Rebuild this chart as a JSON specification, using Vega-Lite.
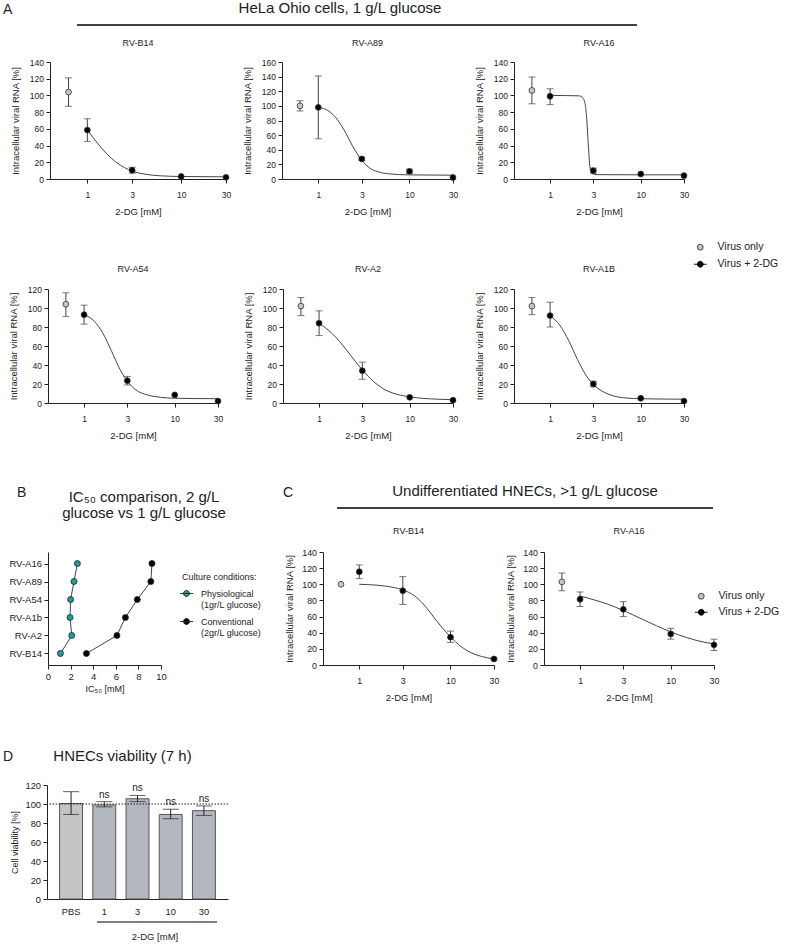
{
"$schema":"https://vega.github.io/schema/vega-lite/v6.json",
"padding":{"left":3,"top":1,"right":0,"bottom":0},
"spacing":0,
"resolve":{"scale":{"color":"independent"},"legend":{"color":"independent"}},
"config":{
 "font":"Liberation Sans",
 "view":{"stroke":null},
 "axis":{"grid":false,"domainColor":"#222","tickColor":"#222","labelColor":"#222","titleColor":"#222","labelFontSize":8.5,"titleFontSize":9.5,"titleFontWeight":"normal","tickSize":4,"domainWidth":1,"tickWidth":1},
 "axisX":{"labelPadding":7,"titlePadding":8,"labelFlush":false},
 "axisY":{"labelPadding":2.5,"titlePadding":9},
 "title":{"fontSize":9,"fontWeight":"normal","color":"#222","frame":"group","offset":10,"anchor":"middle"},
 "legend":{"labelColor":"#222","titleColor":"#222","titleFontWeight":"normal","padding":0}
},
"datasets":{
 "pts":[
  {"cells":"HeLa","virus":"RV-B14","g":"Virus only","dose":0.63,"val":104,"lo":87,"hi":121},
  {"cells":"HeLa","virus":"RV-B14","g":"Virus + 2-DG","dose":1,"val":58.5,"lo":45,"hi":72},
  {"cells":"HeLa","virus":"RV-B14","g":"Virus + 2-DG","dose":3,"val":10.5,"lo":7,"hi":14},
  {"cells":"HeLa","virus":"RV-B14","g":"Virus + 2-DG","dose":10,"val":3,"lo":null,"hi":null},
  {"cells":"HeLa","virus":"RV-B14","g":"Virus + 2-DG","dose":30,"val":2,"lo":null,"hi":null},
  {"cells":"HeLa","virus":"RV-A89","g":"Virus only","dose":0.63,"val":100,"lo":93,"hi":107},
  {"cells":"HeLa","virus":"RV-A89","g":"Virus + 2-DG","dose":1,"val":98,"lo":55,"hi":141},
  {"cells":"HeLa","virus":"RV-A89","g":"Virus + 2-DG","dose":3,"val":27.5,"lo":25.5,"hi":29.5},
  {"cells":"HeLa","virus":"RV-A89","g":"Virus + 2-DG","dose":10,"val":10.5,"lo":7.5,"hi":13.5},
  {"cells":"HeLa","virus":"RV-A89","g":"Virus + 2-DG","dose":30,"val":2,"lo":null,"hi":null},
  {"cells":"HeLa","virus":"RV-A16","g":"Virus only","dose":0.63,"val":106,"lo":90,"hi":122},
  {"cells":"HeLa","virus":"RV-A16","g":"Virus + 2-DG","dose":1,"val":99,"lo":89,"hi":108},
  {"cells":"HeLa","virus":"RV-A16","g":"Virus + 2-DG","dose":3,"val":10,"lo":7,"hi":13},
  {"cells":"HeLa","virus":"RV-A16","g":"Virus + 2-DG","dose":10,"val":6,"lo":null,"hi":null},
  {"cells":"HeLa","virus":"RV-A16","g":"Virus + 2-DG","dose":30,"val":4,"lo":null,"hi":null},
  {"cells":"HeLa","virus":"RV-A54","g":"Virus only","dose":0.63,"val":104,"lo":91,"hi":116},
  {"cells":"HeLa","virus":"RV-A54","g":"Virus + 2-DG","dose":1,"val":93,"lo":83,"hi":103},
  {"cells":"HeLa","virus":"RV-A54","g":"Virus + 2-DG","dose":3,"val":23.5,"lo":19,"hi":28},
  {"cells":"HeLa","virus":"RV-A54","g":"Virus + 2-DG","dose":10,"val":8.5,"lo":null,"hi":null},
  {"cells":"HeLa","virus":"RV-A54","g":"Virus + 2-DG","dose":30,"val":2,"lo":null,"hi":null},
  {"cells":"HeLa","virus":"RV-A2","g":"Virus only","dose":0.63,"val":102,"lo":92,"hi":111},
  {"cells":"HeLa","virus":"RV-A2","g":"Virus + 2-DG","dose":1,"val":84,"lo":71,"hi":97},
  {"cells":"HeLa","virus":"RV-A2","g":"Virus + 2-DG","dose":3,"val":34,"lo":25,"hi":43},
  {"cells":"HeLa","virus":"RV-A2","g":"Virus + 2-DG","dose":10,"val":6,"lo":null,"hi":null},
  {"cells":"HeLa","virus":"RV-A2","g":"Virus + 2-DG","dose":30,"val":3,"lo":null,"hi":null},
  {"cells":"HeLa","virus":"RV-A1B","g":"Virus only","dose":0.63,"val":102,"lo":93,"hi":111},
  {"cells":"HeLa","virus":"RV-A1B","g":"Virus + 2-DG","dose":1,"val":92,"lo":80,"hi":106},
  {"cells":"HeLa","virus":"RV-A1B","g":"Virus + 2-DG","dose":3,"val":20,"lo":17,"hi":23},
  {"cells":"HeLa","virus":"RV-A1B","g":"Virus + 2-DG","dose":10,"val":5,"lo":null,"hi":null},
  {"cells":"HeLa","virus":"RV-A1B","g":"Virus + 2-DG","dose":30,"val":2,"lo":null,"hi":null},
  {"cells":"HNEC","virus":"RV-B14","g":"Virus only","dose":0.63,"val":100,"lo":null,"hi":null},
  {"cells":"HNEC","virus":"RV-B14","g":"Virus + 2-DG","dose":1,"val":115.5,"lo":107,"hi":124},
  {"cells":"HNEC","virus":"RV-B14","g":"Virus + 2-DG","dose":3,"val":92,"lo":75,"hi":109.5},
  {"cells":"HNEC","virus":"RV-B14","g":"Virus + 2-DG","dose":10,"val":34.5,"lo":28,"hi":42},
  {"cells":"HNEC","virus":"RV-B14","g":"Virus + 2-DG","dose":30,"val":7.5,"lo":6,"hi":9},
  {"cells":"HNEC","virus":"RV-A16","g":"Virus only","dose":0.63,"val":103,"lo":92,"hi":114},
  {"cells":"HNEC","virus":"RV-A16","g":"Virus + 2-DG","dose":1,"val":81.5,"lo":72.5,"hi":90.5},
  {"cells":"HNEC","virus":"RV-A16","g":"Virus + 2-DG","dose":3,"val":69,"lo":60,"hi":78.5},
  {"cells":"HNEC","virus":"RV-A16","g":"Virus + 2-DG","dose":10,"val":38.5,"lo":32,"hi":45.5},
  {"cells":"HNEC","virus":"RV-A16","g":"Virus + 2-DG","dose":30,"val":25,"lo":18,"hi":32}
 ],
 "fit":[
  {"cells":"HeLa","virus":"RV-B14","dose":1,"val":58.5},{"cells":"HeLa","virus":"RV-B14","dose":1.3,"val":42},{"cells":"HeLa","virus":"RV-B14","dose":1.6,"val":30.5},{"cells":"HeLa","virus":"RV-B14","dose":2,"val":20.5},{"cells":"HeLa","virus":"RV-B14","dose":2.5,"val":13.5},{"cells":"HeLa","virus":"RV-B14","dose":3,"val":9.5},{"cells":"HeLa","virus":"RV-B14","dose":4,"val":6},{"cells":"HeLa","virus":"RV-B14","dose":6,"val":3.8},{"cells":"HeLa","virus":"RV-B14","dose":10,"val":3},{"cells":"HeLa","virus":"RV-B14","dose":30,"val":2.6},
  {"cells":"HeLa","virus":"RV-A89","dose":1,"val":98},{"cells":"HeLa","virus":"RV-A89","dose":1.3,"val":93},{"cells":"HeLa","virus":"RV-A89","dose":1.6,"val":82},{"cells":"HeLa","virus":"RV-A89","dose":2,"val":63},{"cells":"HeLa","virus":"RV-A89","dose":2.4,"val":44},{"cells":"HeLa","virus":"RV-A89","dose":3,"val":26},{"cells":"HeLa","virus":"RV-A89","dose":3.6,"val":15.5},{"cells":"HeLa","virus":"RV-A89","dose":4.5,"val":10},{"cells":"HeLa","virus":"RV-A89","dose":6,"val":7},{"cells":"HeLa","virus":"RV-A89","dose":10,"val":5.6},{"cells":"HeLa","virus":"RV-A89","dose":30,"val":5.2},
  {"cells":"HeLa","virus":"RV-A16","dose":1,"val":100},{"cells":"HeLa","virus":"RV-A16","dose":2.1,"val":99.5},{"cells":"HeLa","virus":"RV-A16","dose":2.3,"val":97},{"cells":"HeLa","virus":"RV-A16","dose":2.45,"val":88},{"cells":"HeLa","virus":"RV-A16","dose":2.55,"val":68},{"cells":"HeLa","virus":"RV-A16","dose":2.65,"val":38},{"cells":"HeLa","virus":"RV-A16","dose":2.75,"val":15},{"cells":"HeLa","virus":"RV-A16","dose":2.9,"val":6.5},{"cells":"HeLa","virus":"RV-A16","dose":3.3,"val":5.2},{"cells":"HeLa","virus":"RV-A16","dose":10,"val":5},{"cells":"HeLa","virus":"RV-A16","dose":30,"val":5},
  {"cells":"HeLa","virus":"RV-A54","dose":1,"val":93},{"cells":"HeLa","virus":"RV-A54","dose":1.3,"val":86},{"cells":"HeLa","virus":"RV-A54","dose":1.6,"val":74},{"cells":"HeLa","virus":"RV-A54","dose":2,"val":55},{"cells":"HeLa","virus":"RV-A54","dose":2.5,"val":35},{"cells":"HeLa","virus":"RV-A54","dose":3,"val":23},{"cells":"HeLa","virus":"RV-A54","dose":3.7,"val":14},{"cells":"HeLa","virus":"RV-A54","dose":5,"val":8.5},{"cells":"HeLa","virus":"RV-A54","dose":7,"val":6},{"cells":"HeLa","virus":"RV-A54","dose":10,"val":5},{"cells":"HeLa","virus":"RV-A54","dose":30,"val":4.5},
  {"cells":"HeLa","virus":"RV-A2","dose":1,"val":84},{"cells":"HeLa","virus":"RV-A2","dose":1.4,"val":73},{"cells":"HeLa","virus":"RV-A2","dose":2,"val":56},{"cells":"HeLa","virus":"RV-A2","dose":2.5,"val":44},{"cells":"HeLa","virus":"RV-A2","dose":3,"val":35},{"cells":"HeLa","virus":"RV-A2","dose":4,"val":22.5},{"cells":"HeLa","virus":"RV-A2","dose":5,"val":15.5},{"cells":"HeLa","virus":"RV-A2","dose":7,"val":9.5},{"cells":"HeLa","virus":"RV-A2","dose":10,"val":6.5},{"cells":"HeLa","virus":"RV-A2","dose":20,"val":4},{"cells":"HeLa","virus":"RV-A2","dose":30,"val":3.5},
  {"cells":"HeLa","virus":"RV-A1B","dose":1,"val":92},{"cells":"HeLa","virus":"RV-A1B","dose":1.3,"val":81},{"cells":"HeLa","virus":"RV-A1B","dose":1.6,"val":66},{"cells":"HeLa","virus":"RV-A1B","dose":2,"val":46},{"cells":"HeLa","virus":"RV-A1B","dose":2.5,"val":29},{"cells":"HeLa","virus":"RV-A1B","dose":3,"val":19.5},{"cells":"HeLa","virus":"RV-A1B","dose":4,"val":11},{"cells":"HeLa","virus":"RV-A1B","dose":5,"val":7.5},{"cells":"HeLa","virus":"RV-A1B","dose":7,"val":5.2},{"cells":"HeLa","virus":"RV-A1B","dose":10,"val":4.5},{"cells":"HeLa","virus":"RV-A1B","dose":30,"val":4},
  {"cells":"HNEC","virus":"RV-B14","dose":1,"val":100},{"cells":"HNEC","virus":"RV-B14","dose":2,"val":97.5},{"cells":"HNEC","virus":"RV-B14","dose":3,"val":93},{"cells":"HNEC","virus":"RV-B14","dose":4,"val":86},{"cells":"HNEC","virus":"RV-B14","dose":5,"val":76},{"cells":"HNEC","virus":"RV-B14","dose":6,"val":65},{"cells":"HNEC","virus":"RV-B14","dose":7,"val":55},{"cells":"HNEC","virus":"RV-B14","dose":8,"val":47},{"cells":"HNEC","virus":"RV-B14","dose":10,"val":35},{"cells":"HNEC","virus":"RV-B14","dose":13,"val":23},{"cells":"HNEC","virus":"RV-B14","dose":17,"val":15},{"cells":"HNEC","virus":"RV-B14","dose":22,"val":10.5},{"cells":"HNEC","virus":"RV-B14","dose":30,"val":7.5},
  {"cells":"HNEC","virus":"RV-A16","dose":1,"val":85.5},{"cells":"HNEC","virus":"RV-A16","dose":1.5,"val":80},{"cells":"HNEC","virus":"RV-A16","dose":2,"val":75.5},{"cells":"HNEC","virus":"RV-A16","dose":3,"val":67.5},{"cells":"HNEC","virus":"RV-A16","dose":5,"val":56},{"cells":"HNEC","virus":"RV-A16","dose":7,"val":48.5},{"cells":"HNEC","virus":"RV-A16","dose":10,"val":41},{"cells":"HNEC","virus":"RV-A16","dose":15,"val":34},{"cells":"HNEC","virus":"RV-A16","dose":20,"val":30},{"cells":"HNEC","virus":"RV-A16","dose":30,"val":26}
 ],
 "ic50":[
  {"virus":"RV-A16","cond":"Physiological","ic50":2.6,"rank":1},
  {"virus":"RV-A89","cond":"Physiological","ic50":2.3,"rank":2},
  {"virus":"RV-A54","cond":"Physiological","ic50":2.0,"rank":3},
  {"virus":"RV-A1b","cond":"Physiological","ic50":1.95,"rank":4},
  {"virus":"RV-A2","cond":"Physiological","ic50":2.1,"rank":5},
  {"virus":"RV-B14","cond":"Physiological","ic50":1.1,"rank":6},
  {"virus":"RV-A16","cond":"Conventional","ic50":9.2,"rank":1},
  {"virus":"RV-A89","cond":"Conventional","ic50":9.1,"rank":2},
  {"virus":"RV-A54","cond":"Conventional","ic50":7.9,"rank":3},
  {"virus":"RV-A1b","cond":"Conventional","ic50":6.85,"rank":4},
  {"virus":"RV-A2","cond":"Conventional","ic50":6.1,"rank":5},
  {"virus":"RV-B14","cond":"Conventional","ic50":3.4,"rank":6}
 ],
 "via":[
  {"c":"PBS","kind":"PBS","m":100.5,"lo":89,"hi":113},
  {"c":"1","kind":"2-DG","m":99,"lo":97,"hi":102.5},
  {"c":"3","kind":"2-DG","m":105.5,"lo":102.5,"hi":109},
  {"c":"10","kind":"2-DG","m":89,"lo":84.5,"hi":94.5},
  {"c":"30","kind":"2-DG","m":93,"lo":88,"hi":98}
 ]
},
"vconcat":[
 {"hconcat":[
   {"width":74,"height":1,"mark":"point","data":{"values":[]},"title":{"text":"A","anchor":"start","fontSize":14,"offset":8}},
   {"width":560,"height":1,"data":{"values":[{}]},"mark":{"type":"rule","color":"#000","strokeWidth":1.3},"encoding":{"x":{"datum":0,"type":"quantitative","scale":{"domain":[0,1]},"axis":null},"x2":{"datum":1},"y":{"value":0}},"title":{"text":"HeLa Ohio cells, 1 g/L glucose","fontSize":15,"dx":-17,"offset":8}}
  ],"bounds":"flush","spacing":0},
 {"width":1,"height":13,"mark":"point","data":{"values":[]}},
 {"hconcat":[
   {"width":47,"height":117,"mark":"point","data":{"values":[]}},
   {"width":176,"height":117,"title":"RV-B14",
    "encoding":{"x":{"field":"dose","type":"quantitative","title":"2-DG [mM]","scale":{"type":"log","domain":[0.4,30],"nice":false},"axis":{"values":[1,3,10,30]}},
     "y":{"field":"val","type":"quantitative","title":"Intracellular viral RNA [%]","scale":{"domain":[0,140],"nice":false},"axis":{"values":[0,20,40,60,80,100,120,140]}}},
    "layer":[
     {"data":{"name":"fit"},"transform":[{"filter":"datum.cells==='HeLa' && datum.virus==='RV-B14'"}],"mark":{"type":"line","interpolate":"monotone","color":"#444","strokeWidth":1}},
     {"data":{"name":"pts"},"transform":[{"filter":"datum.cells==='HeLa' && datum.virus==='RV-B14'"}],"mark":{"type":"rule","color":"#444"},"encoding":{"y":{"field":"lo","type":"quantitative","title":"Intracellular viral RNA [%]","scale":{"domain":[0,140],"nice":false}},"y2":{"field":"hi"}}},
     {"data":{"name":"pts"},"transform":[{"filter":"datum.cells==='HeLa' && datum.virus==='RV-B14'"}],"mark":{"type":"tick","orient":"horizontal","size":7,"thickness":1,"color":"#444"},"encoding":{"y":{"field":"lo","type":"quantitative","title":"Intracellular viral RNA [%]","scale":{"domain":[0,140],"nice":false}}}},
     {"data":{"name":"pts"},"transform":[{"filter":"datum.cells==='HeLa' && datum.virus==='RV-B14'"}],"mark":{"type":"tick","orient":"horizontal","size":7,"thickness":1,"color":"#444"},"encoding":{"y":{"field":"hi","type":"quantitative","title":"Intracellular viral RNA [%]","scale":{"domain":[0,140],"nice":false}}}},
     {"data":{"name":"pts"},"transform":[{"filter":"datum.cells==='HeLa' && datum.virus==='RV-B14'"}],"mark":{"type":"point","filled":true,"size":34,"opacity":1,"stroke":"#333","strokeWidth":0.8},"encoding":{"color":{"field":"g","type":"nominal","scale":{"domain":["Virus only","Virus + 2-DG"],"range":["#c6c6c6","#000000"]},"legend":null}}}
    ]},
   {"width":56,"height":117,"mark":"point","data":{"values":[]}},
   {"width":171,"height":117,"title":"RV-A89",
    "encoding":{"x":{"field":"dose","type":"quantitative","title":"2-DG [mM]","scale":{"type":"log","domain":[0.4,30],"nice":false},"axis":{"values":[1,3,10,30]}},
     "y":{"field":"val","type":"quantitative","title":"Intracellular viral RNA [%]","scale":{"domain":[0,160],"nice":false},"axis":{"values":[0,20,40,60,80,100,120,140,160]}}},
    "layer":[
     {"data":{"name":"fit"},"transform":[{"filter":"datum.cells==='HeLa' && datum.virus==='RV-A89'"}],"mark":{"type":"line","interpolate":"monotone","color":"#444","strokeWidth":1}},
     {"data":{"name":"pts"},"transform":[{"filter":"datum.cells==='HeLa' && datum.virus==='RV-A89'"}],"mark":{"type":"rule","color":"#444"},"encoding":{"y":{"field":"lo","type":"quantitative","title":"Intracellular viral RNA [%]","scale":{"domain":[0,160],"nice":false}},"y2":{"field":"hi"}}},
     {"data":{"name":"pts"},"transform":[{"filter":"datum.cells==='HeLa' && datum.virus==='RV-A89'"}],"mark":{"type":"tick","orient":"horizontal","size":7,"thickness":1,"color":"#444"},"encoding":{"y":{"field":"lo","type":"quantitative","title":"Intracellular viral RNA [%]","scale":{"domain":[0,160],"nice":false}}}},
     {"data":{"name":"pts"},"transform":[{"filter":"datum.cells==='HeLa' && datum.virus==='RV-A89'"}],"mark":{"type":"tick","orient":"horizontal","size":7,"thickness":1,"color":"#444"},"encoding":{"y":{"field":"hi","type":"quantitative","title":"Intracellular viral RNA [%]","scale":{"domain":[0,160],"nice":false}}}},
     {"data":{"name":"pts"},"transform":[{"filter":"datum.cells==='HeLa' && datum.virus==='RV-A89'"}],"mark":{"type":"point","filled":true,"size":34,"opacity":1,"stroke":"#333","strokeWidth":0.8},"encoding":{"color":{"field":"g","type":"nominal","scale":{"domain":["Virus only","Virus + 2-DG"],"range":["#c6c6c6","#000000"]},"legend":null}}}
    ]},
   {"width":61,"height":117,"mark":"point","data":{"values":[]}},
   {"width":170,"height":117,"title":"RV-A16",
    "encoding":{"x":{"field":"dose","type":"quantitative","title":"2-DG [mM]","scale":{"type":"log","domain":[0.4,30],"nice":false},"axis":{"values":[1,3,10,30]}},
     "y":{"field":"val","type":"quantitative","title":"Intracellular viral RNA [%]","scale":{"domain":[0,140],"nice":false},"axis":{"values":[0,20,40,60,80,100,120,140]}}},
    "layer":[
     {"data":{"name":"fit"},"transform":[{"filter":"datum.cells==='HeLa' && datum.virus==='RV-A16'"}],"mark":{"type":"line","interpolate":"monotone","color":"#444","strokeWidth":1}},
     {"data":{"name":"pts"},"transform":[{"filter":"datum.cells==='HeLa' && datum.virus==='RV-A16'"}],"mark":{"type":"rule","color":"#444"},"encoding":{"y":{"field":"lo","type":"quantitative","title":"Intracellular viral RNA [%]","scale":{"domain":[0,140],"nice":false}},"y2":{"field":"hi"}}},
     {"data":{"name":"pts"},"transform":[{"filter":"datum.cells==='HeLa' && datum.virus==='RV-A16'"}],"mark":{"type":"tick","orient":"horizontal","size":7,"thickness":1,"color":"#444"},"encoding":{"y":{"field":"lo","type":"quantitative","title":"Intracellular viral RNA [%]","scale":{"domain":[0,140],"nice":false}}}},
     {"data":{"name":"pts"},"transform":[{"filter":"datum.cells==='HeLa' && datum.virus==='RV-A16'"}],"mark":{"type":"tick","orient":"horizontal","size":7,"thickness":1,"color":"#444"},"encoding":{"y":{"field":"hi","type":"quantitative","title":"Intracellular viral RNA [%]","scale":{"domain":[0,140],"nice":false}}}},
     {"data":{"name":"pts"},"transform":[{"filter":"datum.cells==='HeLa' && datum.virus==='RV-A16'"}],"mark":{"type":"point","filled":true,"size":34,"opacity":1,"stroke":"#333","strokeWidth":0.8},"encoding":{"color":{"field":"g","type":"nominal","scale":{"domain":["Virus only","Virus + 2-DG"],"range":["#c6c6c6","#000000"]},"legend":null}}}
    ]}
  ],"bounds":"flush","spacing":0,"resolve":{"scale":{"color":"independent"},"legend":{"color":"independent"}}},
 {"width":1,"height":26,"mark":"point","data":{"values":[]}},
 {"hconcat":[
   {"width":45,"height":114,"mark":"point","data":{"values":[]}},
   {"width":170,"height":114,"title":{"text":"RV-A54","offset":11},
    "encoding":{"x":{"field":"dose","type":"quantitative","title":"2-DG [mM]","scale":{"type":"log","domain":[0.4,30],"nice":false},"axis":{"values":[1,3,10,30]}},
     "y":{"field":"val","type":"quantitative","title":"Intracellular viral RNA [%]","scale":{"domain":[0,120],"nice":false},"axis":{"values":[0,20,40,60,80,100,120]}}},
    "layer":[
     {"data":{"name":"fit"},"transform":[{"filter":"datum.cells==='HeLa' && datum.virus==='RV-A54'"}],"mark":{"type":"line","interpolate":"monotone","color":"#444","strokeWidth":1}},
     {"data":{"name":"pts"},"transform":[{"filter":"datum.cells==='HeLa' && datum.virus==='RV-A54'"}],"mark":{"type":"rule","color":"#444"},"encoding":{"y":{"field":"lo","type":"quantitative","title":"Intracellular viral RNA [%]","scale":{"domain":[0,120],"nice":false}},"y2":{"field":"hi"}}},
     {"data":{"name":"pts"},"transform":[{"filter":"datum.cells==='HeLa' && datum.virus==='RV-A54'"}],"mark":{"type":"tick","orient":"horizontal","size":7,"thickness":1,"color":"#444"},"encoding":{"y":{"field":"lo","type":"quantitative","title":"Intracellular viral RNA [%]","scale":{"domain":[0,120],"nice":false}}}},
     {"data":{"name":"pts"},"transform":[{"filter":"datum.cells==='HeLa' && datum.virus==='RV-A54'"}],"mark":{"type":"tick","orient":"horizontal","size":7,"thickness":1,"color":"#444"},"encoding":{"y":{"field":"hi","type":"quantitative","title":"Intracellular viral RNA [%]","scale":{"domain":[0,120],"nice":false}}}},
     {"data":{"name":"pts"},"transform":[{"filter":"datum.cells==='HeLa' && datum.virus==='RV-A54'"}],"mark":{"type":"point","filled":true,"size":34,"opacity":1,"stroke":"#333","strokeWidth":0.8},"encoding":{"color":{"field":"g","type":"nominal","scale":{"domain":["Virus only","Virus + 2-DG"],"range":["#c6c6c6","#000000"]},"legend":null}}}
    ]},
   {"width":65,"height":114,"mark":"point","data":{"values":[]}},
   {"width":170,"height":114,"title":{"text":"RV-A2","offset":11},
    "encoding":{"x":{"field":"dose","type":"quantitative","title":"2-DG [mM]","scale":{"type":"log","domain":[0.4,30],"nice":false},"axis":{"values":[1,3,10,30]}},
     "y":{"field":"val","type":"quantitative","title":"Intracellular viral RNA [%]","scale":{"domain":[0,120],"nice":false},"axis":{"values":[0,20,40,60,80,100,120]}}},
    "layer":[
     {"data":{"name":"fit"},"transform":[{"filter":"datum.cells==='HeLa' && datum.virus==='RV-A2'"}],"mark":{"type":"line","interpolate":"monotone","color":"#444","strokeWidth":1}},
     {"data":{"name":"pts"},"transform":[{"filter":"datum.cells==='HeLa' && datum.virus==='RV-A2'"}],"mark":{"type":"rule","color":"#444"},"encoding":{"y":{"field":"lo","type":"quantitative","title":"Intracellular viral RNA [%]","scale":{"domain":[0,120],"nice":false}},"y2":{"field":"hi"}}},
     {"data":{"name":"pts"},"transform":[{"filter":"datum.cells==='HeLa' && datum.virus==='RV-A2'"}],"mark":{"type":"tick","orient":"horizontal","size":7,"thickness":1,"color":"#444"},"encoding":{"y":{"field":"lo","type":"quantitative","title":"Intracellular viral RNA [%]","scale":{"domain":[0,120],"nice":false}}}},
     {"data":{"name":"pts"},"transform":[{"filter":"datum.cells==='HeLa' && datum.virus==='RV-A2'"}],"mark":{"type":"tick","orient":"horizontal","size":7,"thickness":1,"color":"#444"},"encoding":{"y":{"field":"hi","type":"quantitative","title":"Intracellular viral RNA [%]","scale":{"domain":[0,120],"nice":false}}}},
     {"data":{"name":"pts"},"transform":[{"filter":"datum.cells==='HeLa' && datum.virus==='RV-A2'"}],"mark":{"type":"point","filled":true,"size":34,"opacity":1,"stroke":"#333","strokeWidth":0.8},"encoding":{"color":{"field":"g","type":"nominal","scale":{"domain":["Virus only","Virus + 2-DG"],"range":["#c6c6c6","#000000"]},"legend":null}}}
    ]},
   {"width":61,"height":114,"mark":"point","data":{"values":[]}},
   {"width":170,"height":114,"title":{"text":"RV-A1B","offset":11},
    "encoding":{"x":{"field":"dose","type":"quantitative","title":"2-DG [mM]","scale":{"type":"log","domain":[0.4,30],"nice":false},"axis":{"values":[1,3,10,30]}},
     "y":{"field":"val","type":"quantitative","title":"Intracellular viral RNA [%]","scale":{"domain":[0,120],"nice":false},"axis":{"values":[0,20,40,60,80,100,120]}}},
    "layer":[
     {"data":{"name":"fit"},"transform":[{"filter":"datum.cells==='HeLa' && datum.virus==='RV-A1B'"}],"mark":{"type":"line","interpolate":"monotone","color":"#444","strokeWidth":1}},
     {"data":{"name":"pts"},"transform":[{"filter":"datum.cells==='HeLa' && datum.virus==='RV-A1B'"}],"mark":{"type":"rule","color":"#444"},"encoding":{"y":{"field":"lo","type":"quantitative","title":"Intracellular viral RNA [%]","scale":{"domain":[0,120],"nice":false}},"y2":{"field":"hi"}}},
     {"data":{"name":"pts"},"transform":[{"filter":"datum.cells==='HeLa' && datum.virus==='RV-A1B'"}],"mark":{"type":"tick","orient":"horizontal","size":7,"thickness":1,"color":"#444"},"encoding":{"y":{"field":"lo","type":"quantitative","title":"Intracellular viral RNA [%]","scale":{"domain":[0,120],"nice":false}}}},
     {"data":{"name":"pts"},"transform":[{"filter":"datum.cells==='HeLa' && datum.virus==='RV-A1B'"}],"mark":{"type":"tick","orient":"horizontal","size":7,"thickness":1,"color":"#444"},"encoding":{"y":{"field":"hi","type":"quantitative","title":"Intracellular viral RNA [%]","scale":{"domain":[0,120],"nice":false}}}},
     {"data":{"name":"pts"},"transform":[{"filter":"datum.cells==='HeLa' && datum.virus==='RV-A1B'"}],"mark":{"type":"point","filled":true,"size":34,"opacity":1,"stroke":"#333","strokeWidth":0.8},"encoding":{"color":{"field":"g","type":"nominal","scale":{"domain":["Virus only","Virus + 2-DG"],"range":["#c6c6c6","#000000"]},"legend":null}}}
    ]},
   {"width":1,"height":1,"data":{"values":[]},"mark":{"type":"point","filled":true,"opacity":1,"stroke":"#333","strokeWidth":0.9},
    "encoding":{"color":{"field":"g","type":"nominal","scale":{"domain":["Virus only"],"range":["#c6c6c6"]},
      "legend":{"orient":"none","legendX":11,"legendY":-47,"title":null,"labelFontSize":10.5,"symbolSize":34,"labelOffset":12,"symbolType":"circle","symbolStrokeColor":"#333","symbolStrokeWidth":0.9,"symbolOpacity":1}}}},
   {"width":1,"height":1,"data":{"values":[]},"mark":{"type":"point","filled":true,"opacity":1,"stroke":"#000","strokeWidth":0.9},
    "encoding":{"color":{"field":"g","type":"nominal","scale":{"domain":["Virus + 2-DG"],"range":["#000000"]},
      "legend":{"orient":"none","legendX":10,"legendY":-30,"title":null,"labelFontSize":10.5,"symbolSize":34,"labelOffset":12,"symbolType":"M-2.2,0H2.2M1,0A1,1 0 1,1 -1,0A1,1 0 1,1 1,0Z","symbolStrokeColor":"#000","symbolStrokeWidth":0.9,"symbolOpacity":1}}}}
  ],"bounds":"flush","spacing":0,"resolve":{"scale":{"color":"independent"},"legend":{"color":"independent"}}},
 {"width":1,"height":44,"mark":"point","data":{"values":[]}},
 {"hconcat":[
   {"width":14,"height":1,"mark":"point","data":{"values":[]}},
   {"width":40,"height":1,"mark":"point","data":{"values":[]},"title":{"text":"B","anchor":"start","fontSize":14,"offset":8}},
   {"width":226,"height":1,"mark":"point","data":{"values":[]},"title":{"text":["IC₅₀ comparison, 2 g/L","glucose vs 1 g/L glucose"],"fontSize":15,"lineHeight":16,"offset":-13,"dx":-26}},
   {"width":54,"height":1,"mark":"point","data":{"values":[]},"title":{"text":"C","anchor":"start","fontSize":14,"offset":8}},
   {"width":376,"height":1,"data":{"values":[{}]},"mark":{"type":"rule","color":"#000","strokeWidth":1.3},"encoding":{"x":{"datum":0,"type":"quantitative","scale":{"domain":[0,1]},"axis":null},"x2":{"datum":1},"y":{"value":0}},"title":{"text":"Undifferentiated HNECs, >1 g/L glucose","fontSize":15,"offset":8}}
  ],"bounds":"flush","spacing":0},
 {"width":1,"height":6,"mark":"point","data":{"values":[]}},
 {"hconcat":[
   {"width":45,"height":113,"mark":"point","data":{"values":[]}},
   {"width":113,"height":113,"data":{"name":"ic50"},
    "encoding":{
     "y":{"field":"virus","type":"nominal","title":null,"scale":{"type":"point","domain":["RV-A16","RV-A89","RV-A54","RV-A1b","RV-A2","RV-B14"],"padding":0.64},"axis":{"labelFontSize":9.5}},
     "x":{"field":"ic50","type":"quantitative","title":"IC₅₀ [mM]","scale":{"domain":[0,10],"nice":false},"axis":{"values":[0,2,4,6,8,10],"labelFontSize":9.5,"labelPadding":2,"titlePadding":4,"titleFontSize":9}}},
    "layer":[
     {"mark":{"type":"line","color":"#444","strokeWidth":1},"encoding":{"detail":{"field":"cond"},"order":{"field":"rank","type":"quantitative"}}},
     {"mark":{"type":"point","filled":true,"size":36,"opacity":1,"stroke":"#222","strokeWidth":0.8},"encoding":{"color":{"field":"cond","type":"nominal","scale":{"domain":["Physiological","Conventional"],"range":["#1a9e98","#000000"]},
       "legend":{"orient":"none","legendX":134,"legendY":21,"title":"Culture conditions:","titleFontSize":9,"titlePadding":7,"labelFontSize":9,"symbolSize":36,"labelOffset":10,"rowPadding":6,"symbolType":"M-2.2,0H2.2M1,0A1,1 0 1,1 -1,0A1,1 0 1,1 1,0Z","symbolStrokeColor":"#222","symbolStrokeWidth":0.9,
        "labelExpr":"datum.value === 'Physiological' ? ['Physiological','(1gr/L glucose)'] : ['Conventional','(2gr/L glucose)']",
        "encode":{"labels":{"update":{"lineHeight":{"value":12.5}}}}}}}}
    ]},
   {"width":162,"height":113,"mark":"point","data":{"values":[]}},
   {"width":171,"height":113,"title":{"text":"RV-B14","offset":12},
    "encoding":{"x":{"field":"dose","type":"quantitative","title":"2-DG [mM]","scale":{"type":"log","domain":[0.4,30],"nice":false},"axis":{"values":[1,3,10,30],"labelFontSize":8.8}},
     "y":{"field":"val","type":"quantitative","title":"Intracellular viral RNA [%]","scale":{"domain":[0,140],"nice":false},"axis":{"values":[0,20,40,60,80,100,120,140],"labelFontSize":8.8,"titlePadding":7}}},
    "layer":[
     {"data":{"name":"fit"},"transform":[{"filter":"datum.cells==='HNEC' && datum.virus==='RV-B14'"}],"mark":{"type":"line","interpolate":"monotone","color":"#444","strokeWidth":1}},
     {"data":{"name":"pts"},"transform":[{"filter":"datum.cells==='HNEC' && datum.virus==='RV-B14'"}],"mark":{"type":"rule","color":"#444"},"encoding":{"y":{"field":"lo","type":"quantitative","title":"Intracellular viral RNA [%]","scale":{"domain":[0,140],"nice":false}},"y2":{"field":"hi"}}},
     {"data":{"name":"pts"},"transform":[{"filter":"datum.cells==='HNEC' && datum.virus==='RV-B14'"}],"mark":{"type":"tick","orient":"horizontal","size":7,"thickness":1,"color":"#444"},"encoding":{"y":{"field":"lo","type":"quantitative","title":"Intracellular viral RNA [%]","scale":{"domain":[0,140],"nice":false}}}},
     {"data":{"name":"pts"},"transform":[{"filter":"datum.cells==='HNEC' && datum.virus==='RV-B14'"}],"mark":{"type":"tick","orient":"horizontal","size":7,"thickness":1,"color":"#444"},"encoding":{"y":{"field":"hi","type":"quantitative","title":"Intracellular viral RNA [%]","scale":{"domain":[0,140],"nice":false}}}},
     {"data":{"name":"pts"},"transform":[{"filter":"datum.cells==='HNEC' && datum.virus==='RV-B14'"}],"mark":{"type":"point","filled":true,"size":34,"opacity":1,"stroke":"#333","strokeWidth":0.8},"encoding":{"color":{"field":"g","type":"nominal","scale":{"domain":["Virus only","Virus + 2-DG"],"range":["#c6c6c6","#000000"]},"legend":null}}}
    ]},
   {"width":50,"height":113,"mark":"point","data":{"values":[]}},
   {"width":170,"height":113,"title":{"text":"RV-A16","offset":12},
    "encoding":{"x":{"field":"dose","type":"quantitative","title":"2-DG [mM]","scale":{"type":"log","domain":[0.4,30],"nice":false},"axis":{"values":[1,3,10,30],"labelFontSize":8.8}},
     "y":{"field":"val","type":"quantitative","title":"Intracellular viral RNA [%]","scale":{"domain":[0,140],"nice":false},"axis":{"values":[0,20,40,60,80,100,120,140],"labelFontSize":8.8,"titlePadding":7}}},
    "layer":[
     {"data":{"name":"fit"},"transform":[{"filter":"datum.cells==='HNEC' && datum.virus==='RV-A16'"}],"mark":{"type":"line","interpolate":"monotone","color":"#444","strokeWidth":1}},
     {"data":{"name":"pts"},"transform":[{"filter":"datum.cells==='HNEC' && datum.virus==='RV-A16'"}],"mark":{"type":"rule","color":"#444"},"encoding":{"y":{"field":"lo","type":"quantitative","title":"Intracellular viral RNA [%]","scale":{"domain":[0,140],"nice":false}},"y2":{"field":"hi"}}},
     {"data":{"name":"pts"},"transform":[{"filter":"datum.cells==='HNEC' && datum.virus==='RV-A16'"}],"mark":{"type":"tick","orient":"horizontal","size":7,"thickness":1,"color":"#444"},"encoding":{"y":{"field":"lo","type":"quantitative","title":"Intracellular viral RNA [%]","scale":{"domain":[0,140],"nice":false}}}},
     {"data":{"name":"pts"},"transform":[{"filter":"datum.cells==='HNEC' && datum.virus==='RV-A16'"}],"mark":{"type":"tick","orient":"horizontal","size":7,"thickness":1,"color":"#444"},"encoding":{"y":{"field":"hi","type":"quantitative","title":"Intracellular viral RNA [%]","scale":{"domain":[0,140],"nice":false}}}},
     {"data":{"name":"pts"},"transform":[{"filter":"datum.cells==='HNEC' && datum.virus==='RV-A16'"}],"mark":{"type":"point","filled":true,"size":34,"opacity":1,"stroke":"#333","strokeWidth":0.8},"encoding":{"color":{"field":"g","type":"nominal","scale":{"domain":["Virus only","Virus + 2-DG"],"range":["#c6c6c6","#000000"]},"legend":null}}}
    ]},
   {"width":1,"height":1,"data":{"values":[]},"mark":{"type":"point","filled":true,"opacity":1,"stroke":"#333","strokeWidth":0.9},
    "encoding":{"color":{"field":"g","type":"nominal","scale":{"domain":["Virus only"],"range":["#c6c6c6"]},
      "legend":{"orient":"none","legendX":-18,"legendY":39,"title":null,"labelFontSize":10.5,"symbolSize":34,"labelOffset":12,"symbolType":"circle","symbolStrokeColor":"#333","symbolStrokeWidth":0.9,"symbolOpacity":1}}}},
   {"width":1,"height":1,"data":{"values":[]},"mark":{"type":"point","filled":true,"opacity":1,"stroke":"#000","strokeWidth":0.9},
    "encoding":{"color":{"field":"g","type":"nominal","scale":{"domain":["Virus + 2-DG"],"range":["#000000"]},
      "legend":{"orient":"none","legendX":-19,"legendY":55,"title":null,"labelFontSize":10.5,"symbolSize":34,"labelOffset":12,"symbolType":"M-2.2,0H2.2M1,0A1,1 0 1,1 -1,0A1,1 0 1,1 1,0Z","symbolStrokeColor":"#000","symbolStrokeWidth":0.9,"symbolOpacity":1}}}}
  ],"bounds":"flush","spacing":0,"resolve":{"scale":{"color":"independent"},"legend":{"color":"independent"}}},
 {"width":1,"height":46,"mark":"point","data":{"values":[]}},
 {"hconcat":[
   {"width":44,"height":114,"mark":"point","data":{"values":[]},"title":{"text":"D","anchor":"start","fontSize":14,"offset":21}},
   {"width":181,"height":114,
    "title":{"text":"HNECs viability (7 h)","fontSize":15,"dx":-15,"offset":17},
    "layer":[
     {"data":{"name":"via"},"mark":{"type":"bar","stroke":"#555","strokeWidth":1},"encoding":{
       "x":{"field":"c","type":"nominal","title":null,"sort":["PBS","1","3","10","30"],"scale":{"paddingInner":0.31,"paddingOuter":0.38},"axis":{"labelAngle":0,"ticks":false,"labelPadding":8,"labelFontSize":9.3}},
       "y":{"field":"m","type":"quantitative","title":"Cell viability [%]","scale":{"domain":[0,120],"nice":false},"axis":{"values":[0,20,40,60,80,100,120],"tickCount":7,"labelFontSize":9.3,"titleFontSize":9,"titlePadding":5}},
       "color":{"field":"kind","type":"nominal","scale":{"domain":["PBS","2-DG"],"range":["#c4c4c4","#b3b8bf"]},"legend":null}}},
     {"data":{"values":[{"ref":100}]},"mark":{"type":"rule","strokeDash":[1.5,1.5],"color":"#222","strokeWidth":1.2},"encoding":{"y":{"field":"ref","type":"quantitative","title":"Cell viability [%]"}}},
     {"data":{"name":"via"},"mark":{"type":"rule","color":"#222"},"encoding":{"x":{"field":"c","type":"nominal","sort":["PBS","1","3","10","30"],"title":null},"y":{"field":"lo","type":"quantitative","title":"Cell viability [%]"},"y2":{"field":"hi"}}},
     {"data":{"name":"via"},"mark":{"type":"tick","orient":"horizontal","size":16,"thickness":1,"color":"#222"},"encoding":{"x":{"field":"c","type":"nominal","sort":["PBS","1","3","10","30"],"title":null},"y":{"field":"lo","type":"quantitative","title":"Cell viability [%]"}}},
     {"data":{"name":"via"},"mark":{"type":"tick","orient":"horizontal","size":16,"thickness":1,"color":"#222"},"encoding":{"x":{"field":"c","type":"nominal","sort":["PBS","1","3","10","30"],"title":null},"y":{"field":"hi","type":"quantitative","title":"Cell viability [%]"}}},
     {"data":{"name":"via"},"transform":[{"filter":"datum.c !== 'PBS'"}],"mark":{"type":"text","dy":-7,"fontSize":10,"color":"#222"},"encoding":{"x":{"field":"c","type":"nominal","sort":["PBS","1","3","10","30"],"title":null},"y":{"field":"hi","type":"quantitative","title":"Cell viability [%]"},"text":{"value":"ns"}}}
    ]}
  ],"bounds":"flush","spacing":0},
 {"width":1,"height":4,"mark":"point","data":{"values":[]}},
 {"hconcat":[
   {"width":94,"height":1,"mark":"point","data":{"values":[]}},
   {"width":120,"height":1,"data":{"values":[{}]},"mark":{"type":"rule","color":"#000","strokeWidth":1},"encoding":{"x":{"datum":0,"type":"quantitative","scale":{"domain":[0,1]},"axis":null},"x2":{"datum":1},"y":{"value":0}},"title":{"text":"2-DG [mM]","orient":"bottom","fontSize":9.5,"offset":9,"dx":-2}}
  ],"bounds":"flush","spacing":0}
]
}
